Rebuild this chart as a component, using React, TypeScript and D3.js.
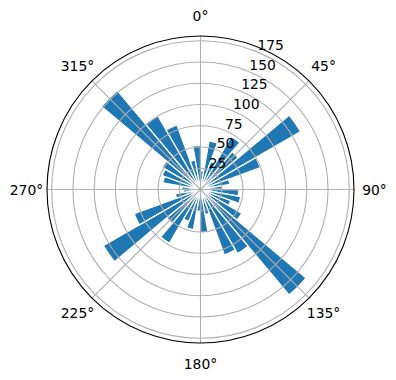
import React from "react";
import * as d3 from "d3";

const directions = [5, 15, 25, 35, 45, 55, 65, 75, 85, 95, 105, 115, 125, 135, 145, 155, 165, 175,
  185, 195, 205, 215, 225, 235, 245, 255, 265, 275, 285, 295, 305, 315, 325, 335, 345, 355];
const values = [22, 58, 35, 72, 58, 136, 75, 35, 25, 45, 48, 38, 56, 162, 87, 82, 30, 51,
  25, 48, 40, 73, 52, 132, 83, 30, 20, 22, 45, 48, 52, 152, 100, 81, 35, 52];
const binWidth = 10;
const radialTicks = [25, 50, 75, 100, 125, 150, 175];
const angleTicks = [0, 45, 90, 135, 180, 225, 270, 315];
const rMax = 180.5;

export default function App() {
  const W = 396, H = 380;
  const cx = 200.5, cy = 189.5, R = 153.5;
  const r = d3.scaleLinear().domain([0, rMax]).range([0, R]);
  const rad = (deg: number) => (deg * Math.PI) / 180;
  const arc = d3.arc<any>();
  const font = "DejaVu Sans, sans-serif";
  const labelAngle = 22.5;

  return (
    <svg width={W} height={H} style={{ position: "absolute", left: 0, top: 0, background: "#fff" }}>
      <g transform={`translate(${cx},${cy})`}>
        {directions.map((d, i) => (
          <path
            key={i}
            d={arc({
              innerRadius: 0,
              outerRadius: r(values[i]),
              startAngle: rad(d - binWidth / 2),
              endAngle: rad(d + binWidth / 2),
            }) as string}
            fill="#1f77b4"
            stroke="#ffffff"
            strokeWidth={1.3}
            strokeLinejoin="miter"
          />
        ))}
        {radialTicks.map((t) => (
          <circle key={t} r={r(t)} fill="none" stroke="#b0b0b0" strokeWidth={1.1} />
        ))}
        {angleTicks.map((a) => (
          <line
            key={a}
            x1={0}
            y1={0}
            x2={R * Math.sin(rad(a))}
            y2={-R * Math.cos(rad(a))}
            stroke="#b0b0b0"
            strokeWidth={1.1}
          />
        ))}
        <circle r={R} fill="none" stroke="#000" strokeWidth={1.1} />
        {angleTicks.map((a) => (
          <text
            key={a}
            x={174 * Math.sin(rad(a))}
            y={-174 * Math.cos(rad(a))}
            textAnchor="middle"
            dominantBaseline="central"
            fontFamily={font}
            fontSize={13.9}
            fill="#000"
          >
            {a}°
          </text>
        ))}
        {radialTicks.map((t) => (
          <text
            key={t}
            x={r(t) * Math.sin(rad(labelAngle))}
            y={-r(t) * Math.cos(rad(labelAngle)) - 2}
            textAnchor="start"
            fontFamily={font}
            fontSize={13.9}
            fill="#000"
          >
            {t}
          </text>
        ))}
      </g>
    </svg>
  );
}
